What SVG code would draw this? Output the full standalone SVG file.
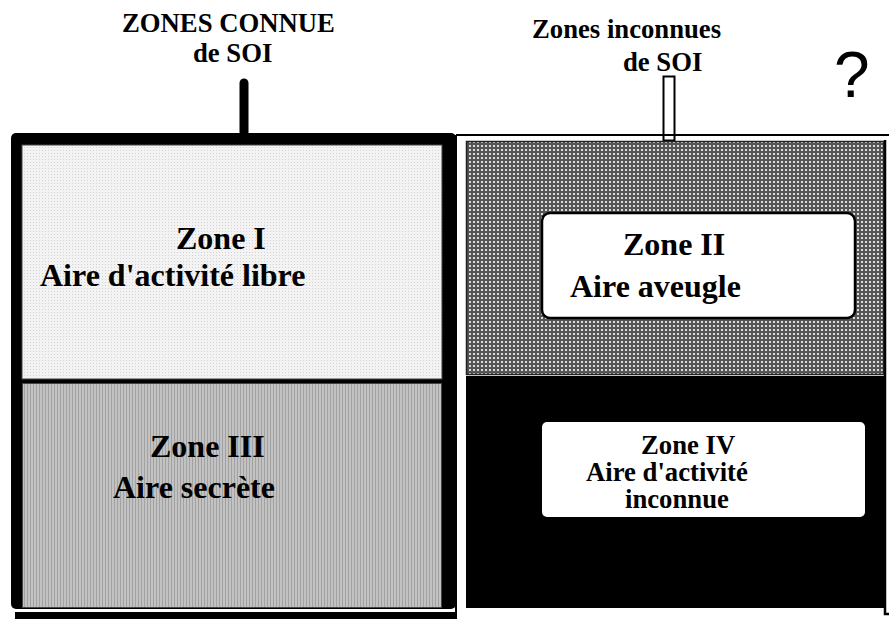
<svg xmlns="http://www.w3.org/2000/svg" width="889" height="619" viewBox="0 0 889 619">
<style>
.t{font-family:"Liberation Serif","Times New Roman",serif;font-weight:bold;fill:#000}
.z{font-size:32px}
.s{font-size:26.7px}
.q{font-family:"Liberation Sans",Arial,sans-serif;font-size:64px;fill:#000}
</style>
<defs>
<pattern id="pI" width="3" height="3" patternUnits="userSpaceOnUse"><rect width="3" height="3" fill="#f3f3f3"/><rect width="1" height="1" fill="#d2d2d2"/></pattern>
<pattern id="pIII" width="3" height="3" patternUnits="userSpaceOnUse"><rect width="3" height="3" fill="#c2c2c2"/><rect width="1" height="3" fill="#a2a2a2"/></pattern>
<pattern id="pII" width="4" height="4" patternUnits="userSpaceOnUse"><rect width="4" height="4" fill="#555"/><rect x="1" y="1" width="2" height="2" fill="#dcdcdc"/></pattern>
</defs>
<rect width="889" height="619" fill="#fff"/>

<g id="titles">
<text class="t s" x="122" y="32">ZONES CONNUE</text>
<text class="t s" x="193" y="62">de SOI</text>
<text class="t s" x="532" y="38">Zones inconnues</text>
<text class="t s" x="623" y="71">de SOI</text>
<text class="q" x="834" y="97">?</text>
</g>

<g id="connectors">
<path d="M244 83 V138" stroke="#000" stroke-width="9" stroke-linecap="round" fill="none"/>
<rect x="663.5" y="76.5" width="11" height="64" fill="#fff" stroke="#000" stroke-width="2"/>
</g>

<g id="left-panel">
<rect x="11" y="133" width="445" height="476" rx="5" fill="#000"/>
<rect x="15" y="612" width="441" height="10" fill="#000"/>
</g>

<g id="zone1">
<rect x="22" y="145" width="420" height="234" fill="url(#pI)" stroke="#444" stroke-width="1"/>
<text class="t z" x="176" y="249">Zone I</text>
<text class="t z" x="40" y="286">Aire d'activité libre</text>
</g>

<g id="zone3">
<rect x="22.5" y="383.5" width="419" height="224" fill="url(#pIII)" stroke="#444" stroke-width="1"/>
<text class="t z" x="150" y="457">Zone III</text>
<text class="t z" x="113" y="498">Aire secrète</text>
</g>

<g id="right-panel">
<path d="M456 135 H889" stroke="#000" stroke-width="2" fill="none"/>
<path d="M456 135 V619" stroke="#000" stroke-width="2" fill="none"/>
<path d="M885 140 V614 H889" stroke="#000" stroke-width="2.5" fill="none"/>
</g>

<g id="zone2">
<rect x="466.5" y="141.5" width="417" height="233" fill="url(#pII)" stroke="#222" stroke-width="1.5"/>
<rect x="542" y="213" width="313" height="105" rx="8" fill="#fff" stroke="#000" stroke-width="2.5"/>
<text class="t z" x="623" y="255">Zone II</text>
<text class="t z" x="570" y="297">Aire aveugle</text>
</g>

<g id="zone4">
<rect x="466" y="376" width="418" height="232" fill="#000"/>
<rect x="542" y="422" width="323" height="95" rx="5" fill="#fff"/>
<text class="t s" x="641" y="454">Zone IV</text>
<text class="t s" x="586" y="481">Aire d'activité</text>
<text class="t s" x="625" y="508">inconnue</text>
</g>
</svg>
